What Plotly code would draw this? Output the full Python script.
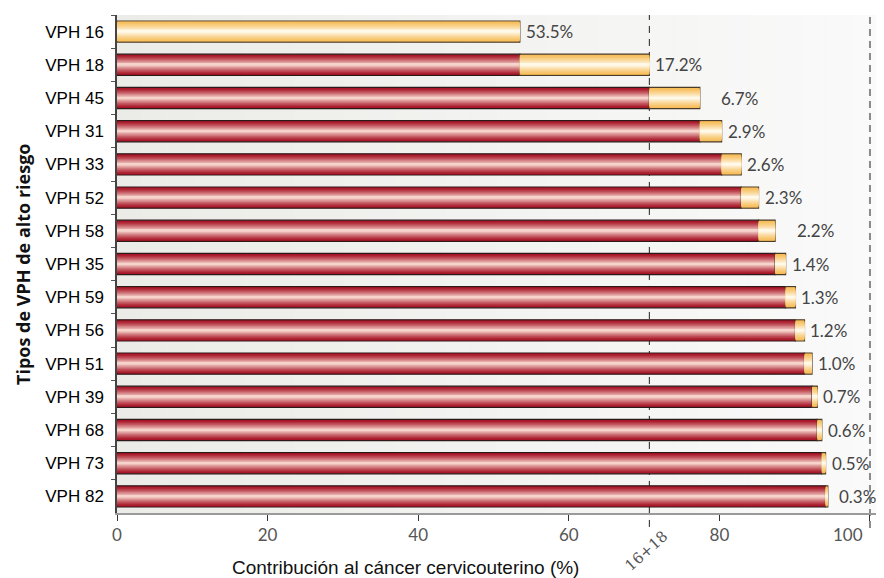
import plotly.graph_objects as go

# High-risk HPV types and their share of cervical cancer cases (%)
types = ["VPH 16", "VPH 18", "VPH 45", "VPH 31", "VPH 33", "VPH 52", "VPH 58",
         "VPH 35", "VPH 59", "VPH 56", "VPH 51", "VPH 39", "VPH 68", "VPH 73", "VPH 82"]
share = [53.5, 17.2, 6.7, 2.9, 2.6, 2.3, 2.2, 1.4, 1.3, 1.2, 1.0, 0.7, 0.6, 0.5, 0.3]
x_ticks = [0, 20, 40, 60, 80, 100]

# cumulative contribution of all types listed before each one
prev = []
running = 0.0
for v in share:
    prev.append(round(running, 2))
    running += v
ends = [p + v for p, v in zip(prev, share)]
pair_total = share[0] + share[1]

# extra label spacing (px) for a few labels that sit further from their bar
label_gap = {"VPH 45": 19, "VPH 58": 20, "VPH 82": 9}

BAR_W = 0.64
N_LAYERS = 12


def hexrgb(h):
    h = h.lstrip("#")
    return tuple(int(h[i:i + 2], 16) for i in (0, 2, 4))


def mix(c1, c2, t):
    a, b = hexrgb(c1), hexrgb(c2)
    return "rgb(%d,%d,%d)" % tuple(round(a[i] + (b[i] - a[i]) * t) for i in range(3))


fig = go.Figure()


def cylinder(base, length, edge, mid, outline):
    """Draw bars with a tube-like shading by stacking narrower, lighter bars."""
    xs = [l if l > 0 else None for l in length]
    for k in range(N_LAYERS):
        t = (k / (N_LAYERS - 1)) ** 1.3
        w = BAR_W * (1 - k / N_LAYERS)
        fig.add_trace(go.Bar(
            y=types, x=xs, base=base, orientation="h",
            width=w,
            marker=dict(color=mix(edge, mid, t),
                        line=dict(color=outline, width=1.2 if k == 0 else 0)),
            hoverinfo="skip" if k else "x+y",
        ))


# cumulative share of the preceding types (red) and this type's own share (yellow)
cylinder([0] * len(types), prev, "#a50f22", "#f6d3cb", "#2a1a1a")
cylinder(prev, share, "#f6bb55", "#fff9ea", "#4a3a28")

shapes = []
# soft left-to-right background shading of the plotting area
n_strips = 30
for i in range(n_strips):
    shapes.append(dict(type="rect", xref="x domain", yref="y domain",
                       x0=i / n_strips, x1=(i + 1) / n_strips, y0=0, y1=1,
                       fillcolor=mix("#ebebe7", "#fafafa", i / (n_strips - 1)),
                       line=dict(width=0), layer="below"))
# reference line at the combined share of types 16 and 18
shapes.append(dict(type="line", xref="x", yref="paper", x0=pair_total, x1=pair_total,
                   y0=-0.028, y1=1, line=dict(color="#222222", width=1, dash="7px,6px"),
                   layer="below"))
# reference line at 100 %
shapes.append(dict(type="line", xref="x", yref="paper", x0=100, x1=100,
                   y0=-0.03, y1=1, line=dict(color="#8a8a8a", width=2, dash="7px,5px"),
                   layer="below"))

annotations = []
for t, v, e in zip(types, share, ends):
    annotations.append(dict(x=e, y=t, xref="x", yref="y", text=f"{v:.1f}%",
                            showarrow=False, xanchor="left", yanchor="middle",
                            xshift=label_gap.get(t, 4),
                            font=dict(family="Lato", size=17, color="#444444")))

# "100" tick label sits just left of its tick
annotations.append(dict(x=100, y=0, xref="x", yref="paper", text="100",
                        showarrow=False, xanchor="right", yanchor="top",
                        xshift=-5, yshift=-9,
                        font=dict(family="Lato", size=17, color="#555555")))
annotations.append(dict(x=pair_total, y=(513 - 551) / 498, xref="x",
                        yref="paper", text="16+18",
                        showarrow=False, textangle=-42, xshift=-3,
                        xanchor="center", yanchor="middle",
                        font=dict(family="DejaVu Serif", size=15, color="#555555")))
annotations.append(dict(x=(23 - 117) / 759, y=(513 - 264) / 498, xref="paper", yref="paper",
                        text="<b>Tipos de VPH de alto riesgo</b>", showarrow=False,
                        textangle=-90, xanchor="center", yanchor="middle",
                        font=dict(family="Open Sans", size=18, color="#111111")))
annotations.append(dict(x=(405 - 117) / 759, y=(513 - 567) / 498, xref="paper", yref="paper",
                        text="Contribución al cáncer cervicouterino (%)",
                        showarrow=False, xanchor="center", yanchor="middle",
                        font=dict(family="Liberation Sans", size=19, color="#111111")))

fig.update_layout(
    width=884, height=578,
    margin=dict(l=117, r=8, t=15, b=65),
    paper_bgcolor="white", plot_bgcolor="#f1f1ee",
    barmode="overlay", showlegend=False,
    shapes=shapes, annotations=annotations,
    xaxis=dict(range=[0, 100.8], tickvals=x_ticks,
               ticktext=[str(v) if v < 100 else "" for v in x_ticks],
               showgrid=False, zeroline=False, showline=True, linecolor="#9a9a9a",
               linewidth=1.5, ticks="outside", ticklen=6, tickcolor="#333333",
               tickfont=dict(family="Lato", size=17, color="#555555")),
    yaxis=dict(autorange="reversed", showgrid=False, zeroline=False, showline=True,
               linecolor="#444444", linewidth=1.5, ticks="outside", ticklen=4,
               tickson="boundaries", tickcolor="#555555", ticklabelstandoff=8,
               tickfont=dict(family="Liberation Sans", size=17, color="#000000")),
)

fig.write_html("out.html")
